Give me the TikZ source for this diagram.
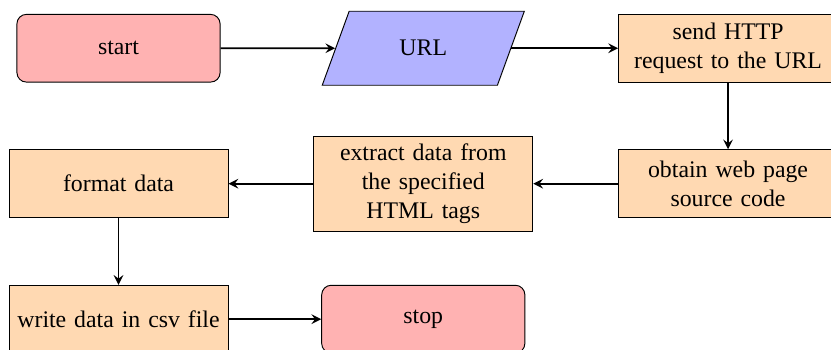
\documentclass[tikz,border=0pt]{standalone}
\usepackage{fontspec}
\setmainfont{Liberation Serif}
\usepackage{tikz}
\usetikzlibrary{arrows.meta,positioning,shapes.geometric}

\begin{document}
\begin{tikzpicture}[
    on grid,
    node distance=2cm and 4.5cm,
    startstop/.style={rectangle, rounded corners, minimum width=3cm, minimum height=1cm, text centered, draw=black, fill=red!30},
    io/.style={trapezium, trapezium left angle=70, trapezium right angle=110, minimum width=3cm, minimum height=1cm, text centered, draw=black, fill=blue!30},
    process/.style={rectangle, minimum width=3cm, minimum height=1cm, text centered, text width=3cm, draw=black, fill=orange!30},
    arrow/.style={thick, ->, >=stealth}
]
\useasboundingbox (-1.75,0.712) rectangle (10.52,-4.443);

% top row, left to right
\node[startstop] (start) at (0,0) {start};
\node[io, right=of start] (url) {URL};
\node[process, right=of url] (request) {send HTTP\\request to the URL};

% middle row, right to left
\node[process, below=of request] (source) {obtain web page source code};
\node[process, left=of source] (extract) {extract data from the specified HTML tags};
\node[process, left=of extract] (format) {format data};

% bottom row
\node[process, below=of format] (write) {write data in csv file};
\node[startstop, right=of write] (stop) {stop};

\draw[arrow] (start) -- (url);
\draw[arrow] (url) -- (request);
\draw[arrow] (request) -- (source);
\draw[arrow] (source) -- (extract);
\draw[arrow] (extract) -- (format);
\draw[arrow] (format) -- (write);
\draw[arrow] (write) -- (stop);

\end{tikzpicture}
\end{document}
